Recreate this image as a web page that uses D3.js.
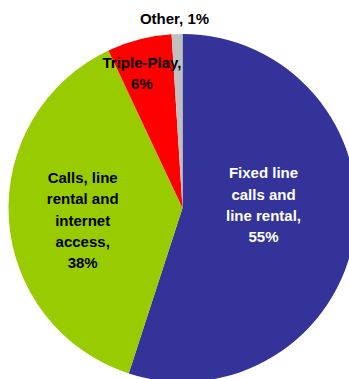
<!DOCTYPE html>
<html>
<head>
<meta charset="utf-8">
<script src="https://cdn.jsdelivr.net/npm/d3@7"></script>
<style>
  html, body { margin: 0; padding: 0; background: #fff; overflow: hidden; }
  svg { display: block; }
</style>
</head>
<body>
<script>
const categories = ["Fixed line calls and line rental", "Calls, line rental and internet access", "Triple-Play", "Other"];
const values = [55, 38, 6, 1];
const labelLines = [
  ["Fixed line", "calls and", "line rental,", "55%"],
  ["Calls, line", "rental and", "internet", "access,", "38%"],
  ["Triple-Play,", "6%"],
  ["Other, 1%"]
];
const colors = ["#333399", "#99CC00", "#FF0000", "#C0C0C0"];
const textColors = ["#FFFFFF", "#000000", "#000000", "#000000"];
// label placement: radius along the slice's mid-angle, plus a small nudge
const labelRadius = [82, 100, 139, 190];
const labelNudge = [[0, -16], [0, 6], [-6, 0], [-2, 0]];

const W = 349, H = 379;
const cx = 182.5, cy = 208, R = 174;
const lineH = 21.3, fontSize = 15;

const svg = d3.select("body").append("svg").attr("width", W).attr("height", H);
const g = svg.append("g").attr("transform", `translate(${cx},${cy})`);

const pie = d3.pie().sort(null).startAngle(0).endAngle(2 * Math.PI);
const arcs = pie(values);
const arc = d3.arc().innerRadius(0).outerRadius(R);

g.selectAll("path.slice").data(arcs).enter().append("path")
  .attr("class", "slice")
  .attr("d", arc)
  .attr("fill", (d, i) => colors[i]);

arcs.forEach((d, i) => {
  const la = d3.arc().innerRadius(labelRadius[i]).outerRadius(labelRadius[i]);
  const [x, y] = la.centroid(d);
  const lines = labelLines[i];
  const px = x + labelNudge[i][0], py = y + labelNudge[i][1];
  const t = g.append("text")
    .attr("text-anchor", "middle")
    .attr("font-family", "'Liberation Sans', Arial, sans-serif")
    .attr("font-weight", "bold")
    .attr("font-size", fontSize)
    .attr("fill", textColors[i]);
  const first = py - (lines.length - 1) * lineH / 2 + fontSize * 0.36;
  lines.forEach((s, k) => {
    t.append("tspan").attr("x", px).attr("y", first + k * lineH).text(s);
  });
});
</script>
</body>
</html>
